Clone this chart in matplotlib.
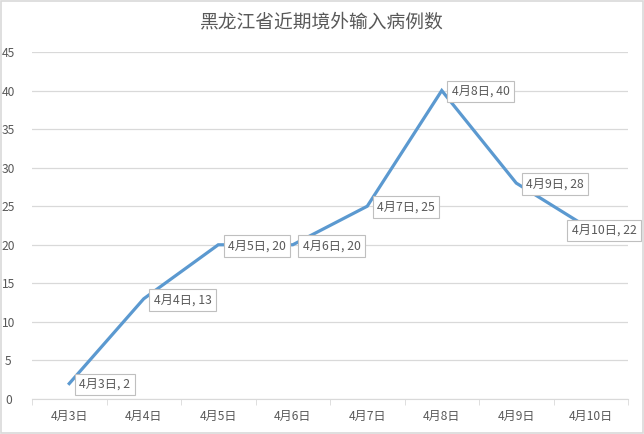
import matplotlib
matplotlib.use('Agg')
import matplotlib.pyplot as plt
from matplotlib.patches import Rectangle
import numpy as np

plt.rcParams['font.family'] = ['Noto Sans CJK SC', 'DejaVu Sans']

# 数据
dates = ['4月3日', '4月4日', '4月5日', '4月6日', '4月7日', '4月8日', '4月9日', '4月10日']
cases = [2, 13, 20, 20, 25, 40, 28, 22]
title = '黑龙江省近期境外输入病例数'

LINE = '#5B99D0'
GRID = '#D9D9D9'
TXT = '#595959'

fig = plt.figure(figsize=(6.44, 4.34), dpi=100)
ax = fig.add_axes([32 / 644, 1 - 399 / 434, 596 / 644, 347 / 434])

x = np.arange(len(dates))
ax.plot(x, cases, color=LINE, lw=2.3, solid_joinstyle='miter', zorder=3)

ax.set_xlim(-0.5, len(dates) - 0.5)
ax.set_ylim(0, 45)
ax.set_yticks(range(0, 50, 5))
ax.yaxis.grid(True, color=GRID, lw=0.9)
ax.set_axisbelow(True)

ax.set_xticks(x)
ax.set_xticklabels(dates, fontsize=8.7, color=TXT)
ax.set_xticks(np.arange(-0.5, len(dates)), minor=True)
ax.tick_params(axis='x', which='major', length=0, pad=8)
ax.tick_params(axis='x', which='minor', length=4, color=GRID)
ax.tick_params(axis='y', length=0, labelsize=8.7, labelcolor=TXT, pad=17)
for lab in ax.get_yticklabels():
    lab.set_horizontalalignment('center')

for s in ('top', 'right', 'left'):
    ax.spines[s].set_visible(False)
ax.spines['bottom'].set_color(GRID)

# 数据标签
for i, (d, v) in enumerate(zip(dates, cases)):
    dx = 10 if i < len(dates) - 1 else -19
    ax.annotate(f'{d}, {v}', xy=(i, v), xytext=(dx, -1),
                textcoords='offset pixels', ha='left', va='center',
                fontsize=8.8, color=TXT, zorder=5,
                bbox=dict(boxstyle='square,pad=0.35', fc='white', ec='#BFBFBF', lw=0.8))

fig.text(0.5, 1 - 22 / 434, title, ha='center', va='center', fontsize=13.5, color=TXT)

fig.patches.append(Rectangle((0.002, 0.002), 0.996, 0.996, transform=fig.transFigure,
                             fill=False, ec='#D9D9D9', lw=1.2))

fig.savefig('out.png', dpi=100)
